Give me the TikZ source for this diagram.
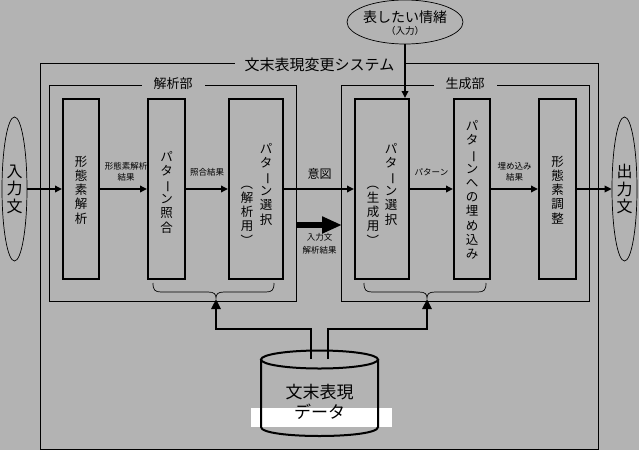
\documentclass[tikz,border=0pt]{standalone}
\usepackage{fontspec}
\setmainfont{Noto Sans CJK JP}
\usetikzlibrary{arrows.meta,shapes.geometric}
\definecolor{bg}{RGB}{179,179,179}
\newcommand{\vbar}{\rotatebox[origin=c]{-90}{ー}}
\newcommand{\vlp}{\rotatebox[origin=c]{-90}{（}}
\newcommand{\vrp}{\rotatebox[origin=c]{-90}{）}}
\begin{document}
\begin{tikzpicture}[x=1pt,y=-1pt,
  frame/.style={draw,line width=1pt,inner sep=0pt,anchor=north west},
  framelabel/.style={fill=bg,inner ysep=1pt},
  stepbox/.style={draw,line width=2pt,minimum height=180pt,inner sep=0pt},
  vt/.style={align=center,inner sep=0pt,font=\fontsize{12.5}{14.2}\selectfont},
  oval/.style={draw,ellipse,line width=0.7pt,inner sep=0pt},
  small/.style={align=center,inner sep=0pt,font=\fontsize{8.5}{11}\selectfont},
  arr/.style={line width=2pt,-{Triangle[length=7pt,width=6.5pt]}},
  bigarr/.style={line width=6pt,-{Triangle[length=20pt,width=16pt]}},
  dbarr/.style={line width=2.5pt,-{Triangle[length=10pt,width=9pt]}},
  brace/.style={line width=0.7pt}
]
\fill[bg] (0,0) rectangle (639,450);
\useasboundingbox (0,0) rectangle (639,450);

% frames
\node[frame,minimum width=558pt,minimum height=386pt] (sys) at (40,63) {};
\node[framelabel,inner xsep=10pt,font=\fontsize{15}{16}\selectfont] (systitle) at (319.5,65) {文末表現変更システム};
\node[frame,minimum width=247pt,minimum height=216pt] (ana) at (49,85) {};
\node[framelabel,inner xsep=12pt,font=\fontsize{13}{14}\selectfont] (analabel) at (173,84) {解析部};
\node[frame,minimum width=248pt,minimum height=216pt] (gen) at (341,85) {};
\node[framelabel,inner xsep=12pt,font=\fontsize{13}{14}\selectfont] (genlabel) at (465,84) {生成部};

% step boxes
\node[stepbox,minimum width=36pt] (b1) at (81,189) {};
\node[vt] (b1t) at (81,190) {形\\態\\素\\解\\析};
\node[stepbox,minimum width=37pt] (b2) at (166.5,189) {};
\node[vt] (b2t) at (166.5,192) {パ\\タ\\\vbar\\ン\\照\\合};
\node[stepbox,minimum width=54pt] (b3) at (256,189) {};
\node[vt] (b3r) at (266,184) {パ\\タ\\\vbar\\ン\\選\\択};
\node[vt] (b3l) at (247,212) {\vlp\\解\\析\\用\\\vrp};
\node[stepbox,minimum width=54pt] (b4) at (382,189) {};
\node[vt] (b4r) at (391,184) {パ\\タ\\\vbar\\ン\\選\\択};
\node[vt] (b4l) at (373,212) {\vlp\\生\\成\\用\\\vrp};
\node[stepbox,minimum width=36pt] (b5) at (472,189) {};
\node[vt] (b5t) at (472,190) {パ\\タ\\\vbar\\ン\\へ\\の\\埋\\め\\込\\み};
\node[stepbox,minimum width=37pt] (b6) at (557.5,189) {};
\node[vt] (b6t) at (557.5,190) {形\\態\\素\\調\\整};

% ellipses
\node[oval,minimum width=25pt,minimum height=144pt,align=center,font=\fontsize{16}{17.5}\selectfont] (in) at (14.5,189) {入\\力\\文};
\node[oval,minimum width=25pt,minimum height=144pt,align=center,font=\fontsize{16}{17.5}\selectfont] (out) at (624.5,189) {出\\力\\文};
\node[oval,minimum width=116pt,minimum height=44pt] (top) at (405,22) {};
\node[inner sep=0pt,font=\fontsize{14}{15}\selectfont] (toptext) at (405,17) {表したい情緒};
\node[inner sep=0pt,font=\fontsize{9.5}{10}\selectfont] (topsub) at (405,31) {（入力）};

% arrows
\draw[arr] (in.east) -- (b1.west);
\draw[arr] (b1.east) -- (b2.west);
\draw[arr] (b2.east) -- (b3.west);
\draw[arr] (b3.east) -- (b4.west);
\draw[arr] (b4.east) -- (b5.west);
\draw[arr] (b5.east) -- (b6.west);
\draw[arr] (b6.east) -- (out.west);
\draw[arr] (top.south) -- (top.south |- b4.north);

% arrow labels
\node[small] (l1) at (126,172) {形態素解析\\結果};
\node[small] (l2) at (207,172) {照合結果};
\node[inner sep=0pt,font=\fontsize{12}{13}\selectfont] (l3) at (319.5,174) {意図};
\node[small] (l4) at (431.5,172) {パターン};
\node[small] (l5) at (514.5,172) {埋め込み\\結果};

% big arrow
\coordinate (ba1) at (297,225);
\coordinate (ba2) at (342,225);
\draw[bigarr] (ba1) -- (ba2);
\node[small,font=\fontsize{8.5}{12.5}\selectfont] (l6) at (319.5,244) {入力文\\解析結果};

% braces
\coordinate (bt1) at (216,298);
\coordinate (bt2) at (427,298);
\draw[brace] (153,283) .. controls (153,290) and (155,292) .. (161,292) -- (208,292)
  .. controls (214,292) and (216,294) .. (bt1)
  .. controls (216,294) and (218,292) .. (224,292) -- (266,292)
  .. controls (272,292) and (274,290) .. (274,283);
\draw[brace] (364,283) .. controls (364,290) and (366,292) .. (372,292) -- (419,292)
  .. controls (425,292) and (427,294) .. (bt2)
  .. controls (427,294) and (429,292) .. (435,292) -- (478,292)
  .. controls (484,292) and (486,290) .. (486,283);

% database
\fill[white] (251,408) rectangle (392,427);
\draw[line width=2pt] (261,359) -- (261,427) .. controls (261,439) and (378,439) .. (378,427) -- (378,359);
\draw[line width=2pt] (319.5,359.5) ellipse [x radius=58.5pt, y radius=9pt];
\node[align=center,inner sep=0pt,font=\fontsize{17}{20}\selectfont] (db) at (319.5,402) {文末表現\\データ};
\coordinate (d1) at (311,359);
\coordinate (d2) at (328,359);
\draw[dbarr] (d1) -- ++(0,-30) -| ([yshift=-1pt]bt1);
\draw[dbarr] (d2) -- ++(0,-30) -| ([yshift=-1pt]bt2);
\end{tikzpicture}
\end{document}
